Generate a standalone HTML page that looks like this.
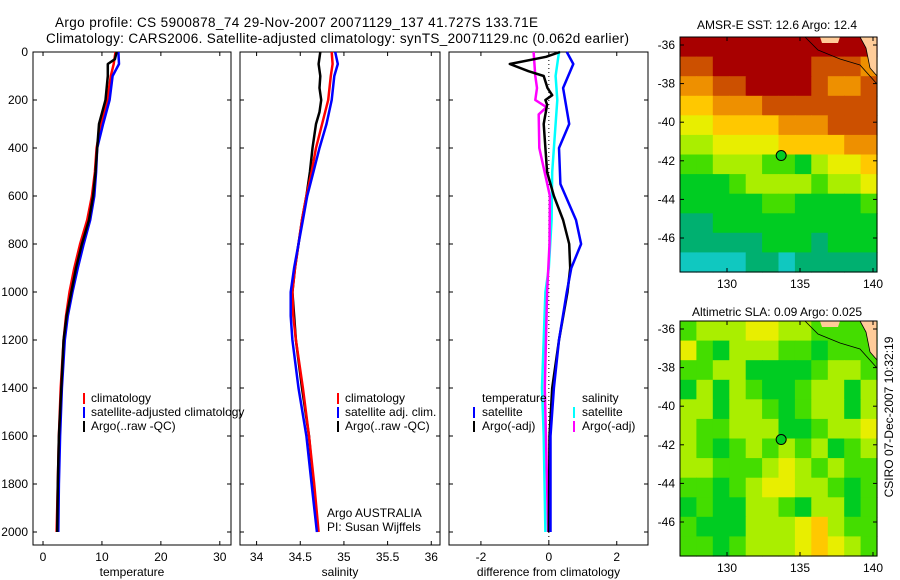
<!DOCTYPE html>
<html><head><meta charset="utf-8"><style>
html,body{margin:0;padding:0;background:#fff;}
svg{display:block;font-family:"Liberation Sans",sans-serif;}
</style></head><body>
<svg id="fig" width="900" height="580" viewBox="0 0 900 580" xmlns="http://www.w3.org/2000/svg">
<text x="55" y="27" font-size="13.5" textLength="483">Argo profile: CS 5900878_74 29-Nov-2007 20071129_137 41.727S 133.71E</text>
<text x="46" y="43" font-size="13.5" textLength="583">Climatology: CARS2006. Satellite-adjusted climatology: synTS_20071129.nc (0.062d earlier)</text>
<g id="plots"></g>
<text x="91" y="402" font-size="12">climatology</text>
<text x="91" y="416" font-size="12">satellite-adjusted climatology</text>
<text x="91" y="430" font-size="12">Argo(..raw -QC)</text>
<rect x="83" y="393" width="2" height="11" fill="#f00"/>
<rect x="83" y="407" width="2" height="11" fill="#00f"/>
<rect x="83" y="421" width="2" height="11" fill="#000"/>
<text x="345" y="402" font-size="12">climatology</text>
<text x="345" y="416" font-size="12">satellite adj. clim.</text>
<text x="345" y="430" font-size="12">Argo(..raw -QC)</text>
<rect x="337" y="393" width="2" height="11" fill="#f00"/>
<rect x="337" y="407" width="2" height="11" fill="#00f"/>
<rect x="337" y="421" width="2" height="11" fill="#000"/>
<text x="482" y="402" font-size="12">temperature</text>
<text x="482" y="416" font-size="12">satellite</text>
<text x="482" y="430" font-size="12">Argo(-adj)</text>
<rect x="473" y="407" width="2" height="11" fill="#00f"/>
<rect x="473" y="421" width="2" height="11" fill="#000"/>
<text x="582" y="402" font-size="12">salinity</text>
<text x="582" y="416" font-size="12">satellite</text>
<text x="582" y="430" font-size="12">Argo(-adj)</text>
<rect x="573" y="407" width="2" height="11" fill="#0ff"/>
<rect x="573" y="421" width="2" height="11" fill="#f0f"/>
<text x="327" y="517" font-size="12">Argo AUSTRALIA</text>
<text x="327" y="531" font-size="12">PI: Susan Wijffels</text>
<g id="maps"></g>
<text x="777" y="29" font-size="12" text-anchor="middle">AMSR-E SST: 12.6 Argo: 12.4</text>
<text x="777" y="316" font-size="12" text-anchor="middle">Altimetric SLA: 0.09 Argo: 0.025</text>
<text transform="translate(893,417) rotate(-90)" font-size="12" text-anchor="middle">CSIRO 07-Dec-2007 10:32:19</text>
</svg>
<script>
const depths=[0,50,100,200,300,400,500,600,700,800,900,1000,1100,1200,1400,1600,1800,2000];
const tClim=[12.3,12.0,11.5,10.9,9.8,9.1,8.8,8.3,7.5,6.3,5.3,4.5,3.9,3.5,3.0,2.7,2.5,2.3];
const tSat=[12.8,12.9,11.8,11.3,10.2,9.2,9.0,8.7,8.0,6.9,5.9,5.0,4.2,3.7,3.2,2.9,2.7,2.6];
const tArgoDepth=[0,30,50,100,200,300,400,500,600,700,800,900,1000,1100,1200,1400,1600,1800,2000];
const tArgo=[12.5,12.2,11.0,11.0,10.6,9.5,9.2,8.9,8.5,7.8,6.6,5.6,4.8,4.0,3.5,3.1,2.7,2.5,2.4];
const sDepth=[0,50,100,200,300,400,500,600,700,800,900,1000,1100,1200,1400,1600,1800,2000];
const sClim=[34.86,34.87,34.85,34.82,34.75,34.68,34.63,34.57,34.52,34.48,34.44,34.41,34.42,34.45,34.53,34.6,34.66,34.71];
const sSat=[34.9,34.93,34.89,34.86,34.8,34.72,34.65,34.58,34.53,34.48,34.43,34.39,34.39,34.41,34.48,34.57,34.63,34.69];
const sArgoDepth=[0,50,100,150,200,250,300,400,500,600,700,800,900,1000,1200,1400,1600,1800,2000];
const sArgo=[34.73,34.71,34.73,34.72,34.74,34.72,34.68,34.64,34.61,34.57,34.52,34.48,34.44,34.41,34.45,34.52,34.6,34.65,34.7];
const dTDepth=[0,20,50,80,100,150,180,200,220,300,400,500,600,700,800,900,1000,1200,1400,1600,2000];
const dTArgo=[0.33,-0.08,-1.15,-0.6,-0.15,-0.04,0.1,-0.1,-0.05,-0.15,-0.1,-0.05,0.15,0.42,0.6,0.63,0.55,0.3,0.1,0.02,0.0];
const dTSatDepth=[0,50,150,300,400,550,700,800,900,1000,1200,1400,1600,2000];
const dTSat=[0.53,0.72,0.42,0.6,0.3,0.34,0.8,0.95,0.66,0.53,0.3,0.15,0.05,0.05];
const dSSatDepth=[0,100,200,300,500,700,900,1000,1200,1400,1600,2000];
const dSSat=[0.3,0.2,0.25,0.2,0.1,0.08,0.0,-0.1,-0.15,-0.2,-0.15,-0.1];
const dSArgoDepth=[0,100,150,200,230,260,400,600,800,1000,1400,2000];
const dSArgo=[-0.45,-0.4,-0.35,-0.4,-0.07,-0.3,-0.28,0.03,0.02,-0.05,-0.12,-0.02];
const depthTicks=[0,200,400,600,800,1000,1200,1400,1600,1800,2000];
const tTicks=[0,10,20,30];
const sTicks=[34,34.5,35,35.5,36];
const sTickLabels=["34","34.5","35","35.5","36"];
const dTicks=[-2,0,2];
const lonTicks=[130,135,140];
const latTicks=[-36,-38,-40,-42,-44,-46];

const NS='http://www.w3.org/2000/svg';
function mk(tag,attrs,parent){const e=document.createElementNS(NS,tag);for(const k in attrs)e.setAttribute(k,attrs[k]);parent.appendChild(e);return e;}
const yD=d=>52+d*0.24;
const plots=document.getElementById('plots');
const panels=[
 {x0:33,x1:231,v0:-1.7,v1:31.9,ticks:tTicks,labels:tTicks.map(String),xlabel:'temperature',name:'temperature'},
 {x0:240,x1:440,v0:33.81,v1:36.1,ticks:sTicks,labels:sTickLabels,xlabel:'salinity',name:'salinity'},
 {x0:449,x1:648,v0:-2.94,v1:2.92,ticks:dTicks,labels:dTicks.map(String),xlabel:'difference from climatology',name:'difference'}];
panels.forEach((p,i)=>{
 p.sx=v=>p.x0+(v-p.v0)/(p.v1-p.v0)*(p.x1-p.x0);
 const g=mk('g',{},plots);
 
 
 const fr=mk('rect',{x:p.x0,y:52,width:p.x1-p.x0,height:493,fill:'none',stroke:'#000','stroke-width':1},g);
 
 
 depthTicks.forEach(d=>{
  mk('line',{x1:p.x0,x2:p.x0+4,y1:yD(d),y2:yD(d),stroke:'#000'},g);
  mk('line',{x1:p.x1-4,x2:p.x1,y1:yD(d),y2:yD(d),stroke:'#000'},g);
  if(i===0){const t=mk('text',{x:28,y:yD(d)+4,'font-size':12,'text-anchor':'end'},g);t.textContent=String(d);
   
   }
 });
 p.ticks.forEach((v,j)=>{
  const x=p.sx(v);
  mk('line',{x1:x,x2:x,y1:52,y2:56,stroke:'#000'},g);
  mk('line',{x1:x,x2:x,y1:541,y2:545,stroke:'#000'},g);
  const t=mk('text',{x:x,y:561,'font-size':12,'text-anchor':'middle'},g);t.textContent=p.labels[j];
  
  
 });
 const xl=mk('text',{x:(p.x0+p.x1)/2,y:576,'font-size':12,'text-anchor':'middle'},g);xl.textContent=p.xlabel;
 
 
});
function line(p,ds,vs,col,name){
 const pts=ds.map((d,k)=>p.sx(vs[k]).toFixed(1)+','+yD(d).toFixed(1)).join(' ');
 const e=mk('polyline',{points:pts,fill:'none',stroke:col,'stroke-width':2.5,'stroke-linejoin':'round'},plots);
 
 
}
const z=mk('line',{x1:panels[2].sx(0),x2:panels[2].sx(0),y1:52,y2:545,stroke:'#000','stroke-dasharray':'1,3'},plots);


line(panels[0],depths,tClim,'#f00','temp-climatology-line');
line(panels[0],depths,tSat,'#00f','temp-satellite-line');
line(panels[0],tArgoDepth,tArgo,'#000','temp-argo-line');
line(panels[1],sArgoDepth,sArgo,'#000','sal-argo-line');
line(panels[1],sDepth,sClim,'#f00','sal-climatology-line');
line(panels[1],sDepth,sSat,'#00f','sal-satellite-line');
line(panels[2],dSSatDepth,dSSat,'#0ff','diff-sal-satellite-line');
line(panels[2],dSArgoDepth,dSArgo,'#f0f','diff-sal-argo-line');
line(panels[2],dTDepth,dTArgo,'#000','diff-temp-argo-line');
line(panels[2],dTSatDepth,dTSat,'#00f','diff-temp-satellite-line');

// maps
const sstGrid=[
[9,9,9,9,9,9,9,9,9,9,9,9],
[8,8,9,9,9,9,9,9,8,8,8,7],
[7,7,8,8,9,9,9,9,8,7,7,8],
[6,6,7,7,7,8,8,8,8,8,8,8],
[5,5,6,6,6,6,7,7,7,8,8,8],
[4,4,5,5,5,5,6,6,6,6,7,7],
[3,3,4,4,4,3,3,2,4,5,5,6],
[2,2,2,3,4,4,4,4,3,4,4,5],
[2,2,2,2,2,3,3,2,2,2,2,3],
[1,1,2,2,2,2,2,2,2,2,2,2],
[1,1,1,1,1,2,2,2,1,2,2,2],
[0,0,0,0,1,1,0,1,1,1,1,1]];
const slaGrid=[
[3,4,4,4,5,5,4,4,3,3,3,3],
[5,3,2,4,4,4,3,3,2,3,3,3],
[3,3,4,4,2,2,2,2,3,4,4,3],
[2,4,2,4,3,2,2,3,4,4,2,4],
[4,4,2,4,4,3,2,3,4,4,2,4],
[4,3,3,4,4,4,2,2,3,4,4,5],
[4,3,2,3,4,3,4,3,4,2,3,4],
[4,4,3,3,3,4,5,4,3,4,3,3],
[3,3,2,3,4,5,5,4,4,3,2,3],
[2,3,2,2,4,4,3,2,4,4,2,3],
[3,2,2,2,4,4,4,5,6,4,3,3],
[3,3,2,3,4,4,4,5,6,5,4,3]];
const palette=['#10c8c0','#00b070','#00cc22','#44dd00','#aaee00','#e8ee00','#ffc800','#ee9000','#cc5000','#a80000'];
const maps=document.getElementById('maps');
const lonX=lon=>727+(lon-130)*14.6;
function drawMap(grid,top,name){
 const latY=lat=>top+8+(-36-lat)*19.3;
 const g=mk('g',{},maps);
 
 
 const x0=680,x1=877,y0=top,y1=top+235;
 const cw=(x1-x0)/12,ch=(y1-y0)/12;
 grid.forEach((row,r)=>row.forEach((v,c)=>{
  const cell=mk('rect',{x:(x0+c*cw).toFixed(1),y:(y0+r*ch).toFixed(1),width:(cw+0.6).toFixed(1),height:(ch+0.6).toFixed(1),fill:palette[v]},g);
  
  
 }));
 mk('polygon',{points:`860,${y0} ${x1},${y0} ${x1},${y0+39} 870,${y0+31} 866,${y0+11}`,fill:'#ffcc99'},g);
 mk('polygon',{points:`820,${y0} 840,${y0} 838,${y0+6} 822,${y0+6}`,fill:'#ffcc99'},g);
 mk('polyline',{points:`805,${y0} 818,${y0+13} 840,${y0+22} 860,${y0+28} ${x1},${y0+47}`,fill:'none',stroke:'#000','stroke-width':0.8},g);
 mk('polyline',{points:`860,${y0} 866,${y0+11} 870,${y0+31} ${x1},${y0+39}`,fill:'none',stroke:'#000','stroke-width':0.8},g);
 mk('rect',{x:x0,y:y0,width:x1-x0,height:y1-y0,fill:'none',stroke:'#000'},g);
 const dot=mk('circle',{cx:lonX(133.71),cy:latY(-41.727),r:5,fill:'#00cc22',stroke:'#000'},g);
 
 
 latTicks.forEach(l=>{
  const t=mk('text',{x:675,y:latY(l)+4,'font-size':12,'text-anchor':'end'},g);t.textContent=String(l);
  
  
  mk('line',{x1:x0,x2:x0+4,y1:latY(l),y2:latY(l),stroke:'#000'},g);
  mk('line',{x1:x1-4,x2:x1,y1:latY(l),y2:latY(l),stroke:'#000'},g);
 });
 lonTicks.forEach(l=>{
  const t=mk('text',{x:lonX(l),y:y1+16,'font-size':12,'text-anchor':'middle'},g);t.textContent=String(l);
  
  
  mk('line',{x1:lonX(l),x2:lonX(l),y1:y0,y2:y0+4,stroke:'#000'},g);
  mk('line',{x1:lonX(l),x2:lonX(l),y1:y1-4,y2:y1,stroke:'#000'},g);
 });
}
drawMap(sstGrid,37,'sst-map');
drawMap(slaGrid,321,'sla-map');
</script>
</body></html>
